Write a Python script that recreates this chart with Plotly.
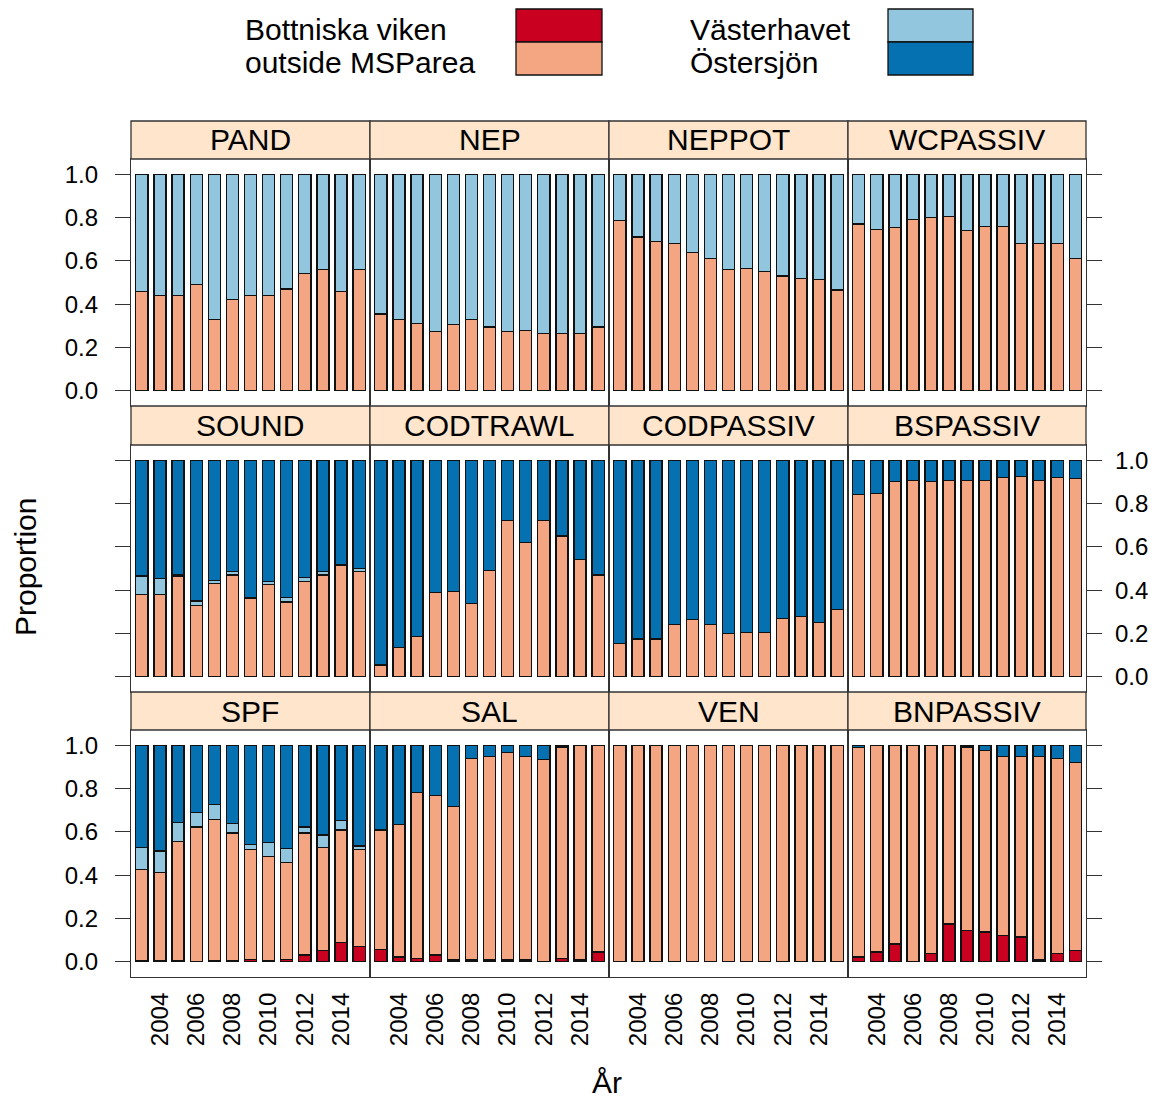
import plotly.graph_objects as go

# ---------------- data ----------------
years = [2003, 2004, 2005, 2006, 2007, 2008, 2009, 2010, 2011, 2012, 2013, 2014, 2015]
tick_years = [2004, 2006, 2008, 2010, 2012, 2014]
y_ticks = [0.0, 0.2, 0.4, 0.6, 0.8, 1.0]
y_ticktext = ["0.0", "0.2", "0.4", "0.6", "0.8", "1.0"]

series_names = ["Bottniska viken", "outside MSParea", "Västerhavet", "Östersjön"]
series_colors = ["#CA0020", "#F4A582", "#92C5DE", "#0571B0"]

panels = ["PAND", "NEP", "NEPPOT", "WCPASSIV",
          "SOUND", "CODTRAWL", "CODPASSIV", "BSPASSIV",
          "SPF", "SAL", "VEN", "BNPASSIV"]

ZERO = [0, 0, 0, 0, 0, 0, 0, 0, 0, 0, 0, 0, 0]

# PAND
pand_outside = [0.46, 0.44, 0.44, 0.49, 0.33, 0.42, 0.44, 0.44, 0.47, 0.54, 0.56, 0.46, 0.56]
pand_vaster = [0.54, 0.56, 0.56, 0.51, 0.67, 0.58, 0.56, 0.56, 0.53, 0.46, 0.44, 0.54, 0.44]
# NEP
nep_outside = [0.355, 0.33, 0.31, 0.275, 0.305, 0.33, 0.295, 0.275, 0.28, 0.265, 0.265, 0.265, 0.295]
nep_vaster = [0.645, 0.67, 0.69, 0.725, 0.695, 0.67, 0.705, 0.725, 0.72, 0.735, 0.735, 0.735, 0.705]
# NEPPOT
neppot_outside = [0.785, 0.71, 0.69, 0.68, 0.64, 0.61, 0.56, 0.565, 0.55, 0.53, 0.52, 0.515, 0.465]
neppot_vaster = [0.215, 0.29, 0.31, 0.32, 0.36, 0.39, 0.44, 0.435, 0.45, 0.47, 0.48, 0.485, 0.535]
# WCPASSIV
wcp_outside = [0.77, 0.745, 0.755, 0.79, 0.80, 0.805, 0.74, 0.76, 0.76, 0.68, 0.68, 0.68, 0.61]
wcp_vaster = [0.23, 0.255, 0.245, 0.21, 0.20, 0.195, 0.26, 0.24, 0.24, 0.32, 0.32, 0.32, 0.39]
# SOUND
sound_outside = [0.38, 0.38, 0.465, 0.33, 0.43, 0.47, 0.36, 0.425, 0.345, 0.44, 0.47, 0.515, 0.485]
sound_vaster = [0.085, 0.075, 0.005, 0.02, 0.015, 0.015, 0.005, 0.015, 0.02, 0.02, 0.015, 0.005, 0.015]
sound_oster = [0.535, 0.545, 0.53, 0.65, 0.555, 0.515, 0.635, 0.56, 0.635, 0.54, 0.515, 0.48, 0.50]
# CODTRAWL
codt_outside = [0.055, 0.135, 0.185, 0.39, 0.395, 0.34, 0.49, 0.72, 0.62, 0.72, 0.65, 0.54, 0.47]
codt_oster = [0.945, 0.865, 0.815, 0.61, 0.605, 0.66, 0.51, 0.28, 0.38, 0.28, 0.35, 0.46, 0.53]
# CODPASSIV
codp_outside = [0.155, 0.175, 0.175, 0.24, 0.265, 0.24, 0.20, 0.205, 0.205, 0.27, 0.28, 0.25, 0.31]
codp_oster = [0.845, 0.825, 0.825, 0.76, 0.735, 0.76, 0.80, 0.795, 0.795, 0.73, 0.72, 0.75, 0.69]
# BSPASSIV
bsp_outside = [0.84, 0.845, 0.90, 0.905, 0.90, 0.905, 0.905, 0.905, 0.92, 0.925, 0.905, 0.92, 0.915]
bsp_oster = [0.16, 0.155, 0.10, 0.095, 0.10, 0.095, 0.095, 0.095, 0.08, 0.075, 0.095, 0.08, 0.085]
# SPF
spf_bottn = [0.005, 0.005, 0.005, 0.002, 0.005, 0.005, 0.012, 0.005, 0.012, 0.031, 0.051, 0.088, 0.072]
spf_outside = [0.421, 0.406, 0.552, 0.621, 0.653, 0.589, 0.508, 0.480, 0.445, 0.563, 0.477, 0.520, 0.448]
spf_vaster = [0.102, 0.101, 0.086, 0.066, 0.067, 0.044, 0.023, 0.066, 0.065, 0.029, 0.058, 0.044, 0.015]
spf_oster = [0.472, 0.488, 0.357, 0.311, 0.275, 0.362, 0.457, 0.449, 0.478, 0.377, 0.414, 0.348, 0.465]
# SAL
sal_bottn = [0.058, 0.022, 0.015, 0.031, 0.009, 0.009, 0.009, 0.009, 0.009, 0.003, 0.015, 0.009, 0.046]
sal_outside = [0.550, 0.613, 0.767, 0.737, 0.708, 0.931, 0.940, 0.956, 0.940, 0.931, 0.977, 0.991, 0.954]
sal_oster = [0.392, 0.365, 0.218, 0.232, 0.283, 0.060, 0.051, 0.035, 0.051, 0.066, 0.008, 0.0, 0.0]
# VEN
ven_bottn = [0.0, 0.0, 0.003, 0.0, 0.003, 0.0, 0.0, 0.0, 0.0, 0.0, 0.0, 0.0, 0.003]
ven_outside = [1.0, 1.0, 0.997, 1.0, 0.997, 1.0, 1.0, 1.0, 1.0, 1.0, 1.0, 1.0, 0.997]
# BNPASSIV
bnp_bottn = [0.022, 0.045, 0.082, 0.003, 0.037, 0.175, 0.146, 0.138, 0.123, 0.115, 0.009, 0.037, 0.051]
bnp_outside = [0.968, 0.955, 0.918, 0.997, 0.963, 0.825, 0.845, 0.839, 0.825, 0.833, 0.939, 0.903, 0.869]
bnp_oster = [0.010, 0.0, 0.0, 0.0, 0.0, 0.0, 0.009, 0.023, 0.052, 0.052, 0.052, 0.060, 0.080]

panel_series = {
    "PAND": [ZERO, pand_outside, pand_vaster, ZERO],
    "NEP": [ZERO, nep_outside, nep_vaster, ZERO],
    "NEPPOT": [ZERO, neppot_outside, neppot_vaster, ZERO],
    "WCPASSIV": [ZERO, wcp_outside, wcp_vaster, ZERO],
    "SOUND": [ZERO, sound_outside, sound_vaster, sound_oster],
    "CODTRAWL": [ZERO, codt_outside, ZERO, codt_oster],
    "CODPASSIV": [ZERO, codp_outside, ZERO, codp_oster],
    "BSPASSIV": [ZERO, bsp_outside, ZERO, bsp_oster],
    "SPF": [spf_bottn, spf_outside, spf_vaster, spf_oster],
    "SAL": [sal_bottn, sal_outside, ZERO, sal_oster],
    "VEN": [ven_bottn, ven_outside, ZERO, ZERO],
    "BNPASSIV": [bnp_bottn, bnp_outside, ZERO, bnp_oster],
}

# ---------------- layout geometry (page pixels) ----------------
OFF = 8  # default page body margin
W, H = 1157 - 2 * OFF, 1111 - 2 * OFF
col_edges = [131, 370, 609, 848, 1086]
row_plot = [(159, 406), (445, 692), (730, 977)]
row_strip = [(121, 159), (406, 445), (692, 730)]

FONT = "Liberation Sans, Arial, sans-serif"
FRAME = "#333333"


def px(x):
    return (x - OFF) / W


def py(y):
    return 1 - (y - OFF) / H


fig = go.Figure()
layout = dict(
    width=W, height=H, autosize=False,
    margin=dict(l=0, r=0, t=0, b=0),
    paper_bgcolor="white", plot_bgcolor="white",
    barmode="stack", bargap=1 / 3,
    showlegend=False,
    font=dict(family=FONT, color="black", size=24),
)
shapes = []
annotations = []

for i, name in enumerate(panels):
    r, c = divmod(i, 4)
    n = i + 1
    xa = "x" if n == 1 else f"x{n}"
    ya = "y" if n == 1 else f"y{n}"
    for s in range(4):
        fig.add_trace(go.Bar(
            x=years, y=panel_series[name][s], name=series_names[s],
            marker=dict(color=series_colors[s], line=dict(color="#111111", width=1.3)),
            xaxis=xa, yaxis=ya, hoverinfo="x+y+name",
        ))
    xkey = "xaxis" if n == 1 else f"xaxis{n}"
    ykey = "yaxis" if n == 1 else f"yaxis{n}"
    layout[xkey] = dict(
        domain=[px(col_edges[c]), px(col_edges[c + 1])],
        anchor=ya, range=[2002.4, 2015.6],
        tickvals=tick_years, ticktext=[str(t) for t in tick_years],
        tickangle=-90, ticks="", showticklabels=(r == 2),
        ticklabelstandoff=5,
        showgrid=False, zeroline=False,
        showline=True, mirror=True, linecolor=FRAME, linewidth=1.3,
        tickfont=dict(size=24, family=FONT, color="black"),
    )
    ydict = dict(
        domain=[py(row_plot[r][1]), py(row_plot[r][0])],
        anchor=xa, range=[-0.07, 1.07],
        tickvals=y_ticks, ticktext=y_ticktext,
        showgrid=False, zeroline=False,
        showline=True, mirror=True, linecolor=FRAME, linewidth=1.3,
        tickfont=dict(size=24, family=FONT, color="black"),
    )
    if c == 0:
        ydict.update(side="left", ticks="outside", ticklen=15, tickwidth=1.3,
                     tickcolor=FRAME, showticklabels=(r != 1), ticklabelstandoff=12)
    elif c == 3:
        ydict.update(side="right", ticks="outside", ticklen=15, tickwidth=1.3,
                     tickcolor=FRAME, showticklabels=(r == 1), ticklabelstandoff=8)
    else:
        ydict.update(ticks="", showticklabels=False)
    layout[ykey] = ydict

    # strip
    s0, s1 = row_strip[r]
    shapes.append(dict(type="rect", xref="paper", yref="paper",
                       x0=px(col_edges[c]), x1=px(col_edges[c + 1]),
                       y0=py(s1), y1=py(s0),
                       fillcolor="#FFE5CC", line=dict(color=FRAME, width=1.3)))
    annotations.append(dict(text=name, xref="paper", yref="paper",
                            x=px((col_edges[c] + col_edges[c + 1]) / 2), y=py((s0 + s1) / 2),
                            xanchor="center", yanchor="middle", showarrow=False,
                            font=dict(size=30, family=FONT, color="black")))

# axis titles
annotations.append(dict(text="Proportion", xref="paper", yref="paper",
                        x=px(25), y=py(567), textangle=-90,
                        xanchor="center", yanchor="middle", showarrow=False,
                        font=dict(size=30, family=FONT, color="black")))
annotations.append(dict(text="År", xref="paper", yref="paper",
                        x=px(607), y=py(1082),
                        xanchor="center", yanchor="middle", showarrow=False,
                        font=dict(size=30, family=FONT, color="black")))

# legend (two columns)
legend_items = [
    (0, 243, 516, 602, 29, (9, 42)),
    (1, 243, 516, 602, 62, (42, 75)),
    (2, 688, 888, 973, 29, (9, 42)),
    (3, 688, 888, 973, 62, (42, 75)),
]
for s, tx, bx0, bx1, ty, (by0, by1) in legend_items:
    shapes.append(dict(type="rect", xref="paper", yref="paper",
                       x0=px(bx0), x1=px(bx1), y0=py(by1), y1=py(by0),
                       fillcolor=series_colors[s], line=dict(color="#111111", width=1.3)))
    annotations.append(dict(text=series_names[s], xref="paper", yref="paper",
                            x=px(tx), y=py(ty), xanchor="left", yanchor="middle",
                            showarrow=False,
                            font=dict(size=30, family=FONT, color="black")))

layout["shapes"] = shapes
layout["annotations"] = annotations
fig.update_layout(**layout)
fig.write_html("out.html")
